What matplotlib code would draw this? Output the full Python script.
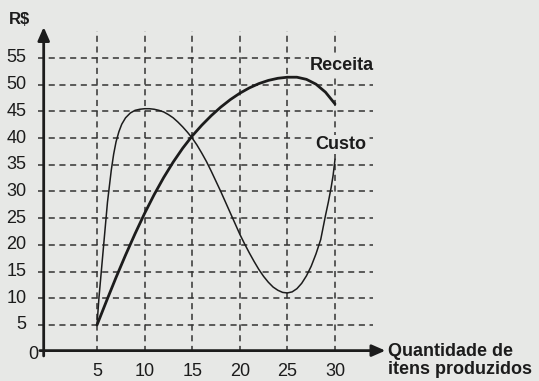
import matplotlib.pyplot as plt

# values (x = quantity, y = R$)
receita_x = [5, 6, 7, 8, 9, 10, 11, 12, 13, 14, 15, 16, 17, 18, 19, 20,
             21, 22, 23, 24, 25, 26, 27, 28, 29, 30]
receita_y = [5, 9.5, 13.9, 18.1, 22.1, 25.9, 29.4, 32.6, 35.5, 38.1, 40.4,
             42.4, 44.2, 45.8, 47.2, 48.4, 49.4, 50.2, 50.8, 51.2, 51.4,
             51.4, 51.0, 50.1, 48.6, 46.4]

custo_x = [5, 5.1, 5.2, 5.35, 5.5, 5.65, 5.8, 5.95, 6.1, 6.3, 6.5, 6.75, 7.0,
           7.3, 7.6, 8.0, 8.5, 9.0, 9.5, 10, 10.5, 11, 11.5, 12, 12.5, 13,
           13.5, 14, 14.5, 15, 15.5, 16, 16.5, 17, 17.5, 18, 18.5, 19, 19.5,
           20, 20.5, 21, 21.5, 22, 22.5, 23, 23.5, 24, 24.5, 25, 25.5, 26,
           26.5, 27, 27.5, 28, 28.5, 29, 29.3, 29.6, 29.8, 30]
custo_y = [5, 7.5, 10, 13, 16, 19, 22, 25, 28, 31, 34, 37, 39.3,
           41.2, 42.6, 43.8, 44.7, 45.2, 45.4, 45.5, 45.5, 45.4, 45.2, 44.9, 44.4, 43.8,
           43.0, 42.1, 41.1, 40.0, 38.7, 37.2, 35.6, 33.8, 31.9, 30.0, 28.0, 26.0, 24.0,
           22.0, 20.2, 18.5, 16.9, 15.4, 14.1, 13.0, 12.1, 11.5, 11.1, 11.0, 11.2, 11.8,
           12.8, 14.2, 16.0, 18.3, 21.0, 25.5, 28.0, 30.8, 33.0, 36.0]

x_ticks = [5, 10, 15, 20, 25, 30]
y_ticks = [5, 10, 15, 20, 25, 30, 35, 40, 45, 50, 55]

bg = '#e7e8e6'
ink = '#1c1c1c'
plt.rcParams['font.family'] = ['Liberation Sans', 'DejaVu Sans']

fig = plt.figure(figsize=(5.39, 3.81), dpi=100, facecolor=bg)
ax = fig.add_axes([0, 0, 1, 1])
ax.set_facecolor(bg)
ax.set_xlim(-5.19, 51.43)
ax.set_ylim(-5.49, 65.86)
ax.axis('off')

# dashed grid
for xv in x_ticks:
    ax.plot([xv, xv], [0, 60], color='#333333', lw=1.1, ls=(0, (4, 3)), zorder=1)
for yv in y_ticks:
    ax.plot([-1.2, 34], [yv, yv], color='#333333', lw=1.1, ls=(0, (4, 3)), zorder=1)

# axes with arrow heads
ax.annotate('', xy=(-0.6, 60.8), xytext=(-0.6, -0.8),
            arrowprops=dict(arrowstyle='-|>,head_width=0.35,head_length=0.8',
                            color=ink, lw=2.0, shrinkA=0, shrinkB=0), zorder=3)
ax.annotate('', xy=(35.3, 0.2), xytext=(-1.0, 0.2),
            arrowprops=dict(arrowstyle='-|>,head_width=0.35,head_length=0.8',
                            color=ink, lw=2.0, shrinkA=0, shrinkB=0), zorder=3)

# tick labels
for yv in y_ticks:
    ax.text(-2.4, yv, str(yv), ha='right', va='center', fontsize=13, color=ink)
for xv in x_ticks:
    ax.text(xv, -3.8, str(xv), ha='center', va='center', fontsize=13, color=ink)
ax.text(-1.7, -0.5, '0', ha='center', va='center', fontsize=13, color=ink)

# curves
ax.plot(receita_x, receita_y, color=ink, lw=2.0, solid_capstyle='round',
        solid_joinstyle='round', zorder=4)
ax.plot(custo_x, custo_y, color=ink, lw=1.1, solid_joinstyle='round', zorder=4)

# labels
ax.text(-3.1, 62.2, 'R$', fontsize=12, fontweight='bold', color=ink,
        ha='center', va='center')
ax.text(27.3, 53.6, 'Receita', fontsize=13, fontweight='bold', color=ink,
        ha='left', va='center', zorder=5,
        bbox=dict(facecolor=bg, edgecolor='none', pad=0.5))
ax.text(27.9, 38.8, 'Custo', fontsize=13, fontweight='bold', color=ink,
        ha='left', va='center', zorder=5,
        bbox=dict(facecolor=bg, edgecolor='none', pad=0.5))
ax.text(35.6, 1.7, 'Quantidade de\nitens produzidos', fontsize=13,
        fontweight='bold', color=ink, ha='left', va='top', linespacing=1.1)

fig.savefig('out.png', dpi=100, facecolor=bg)
